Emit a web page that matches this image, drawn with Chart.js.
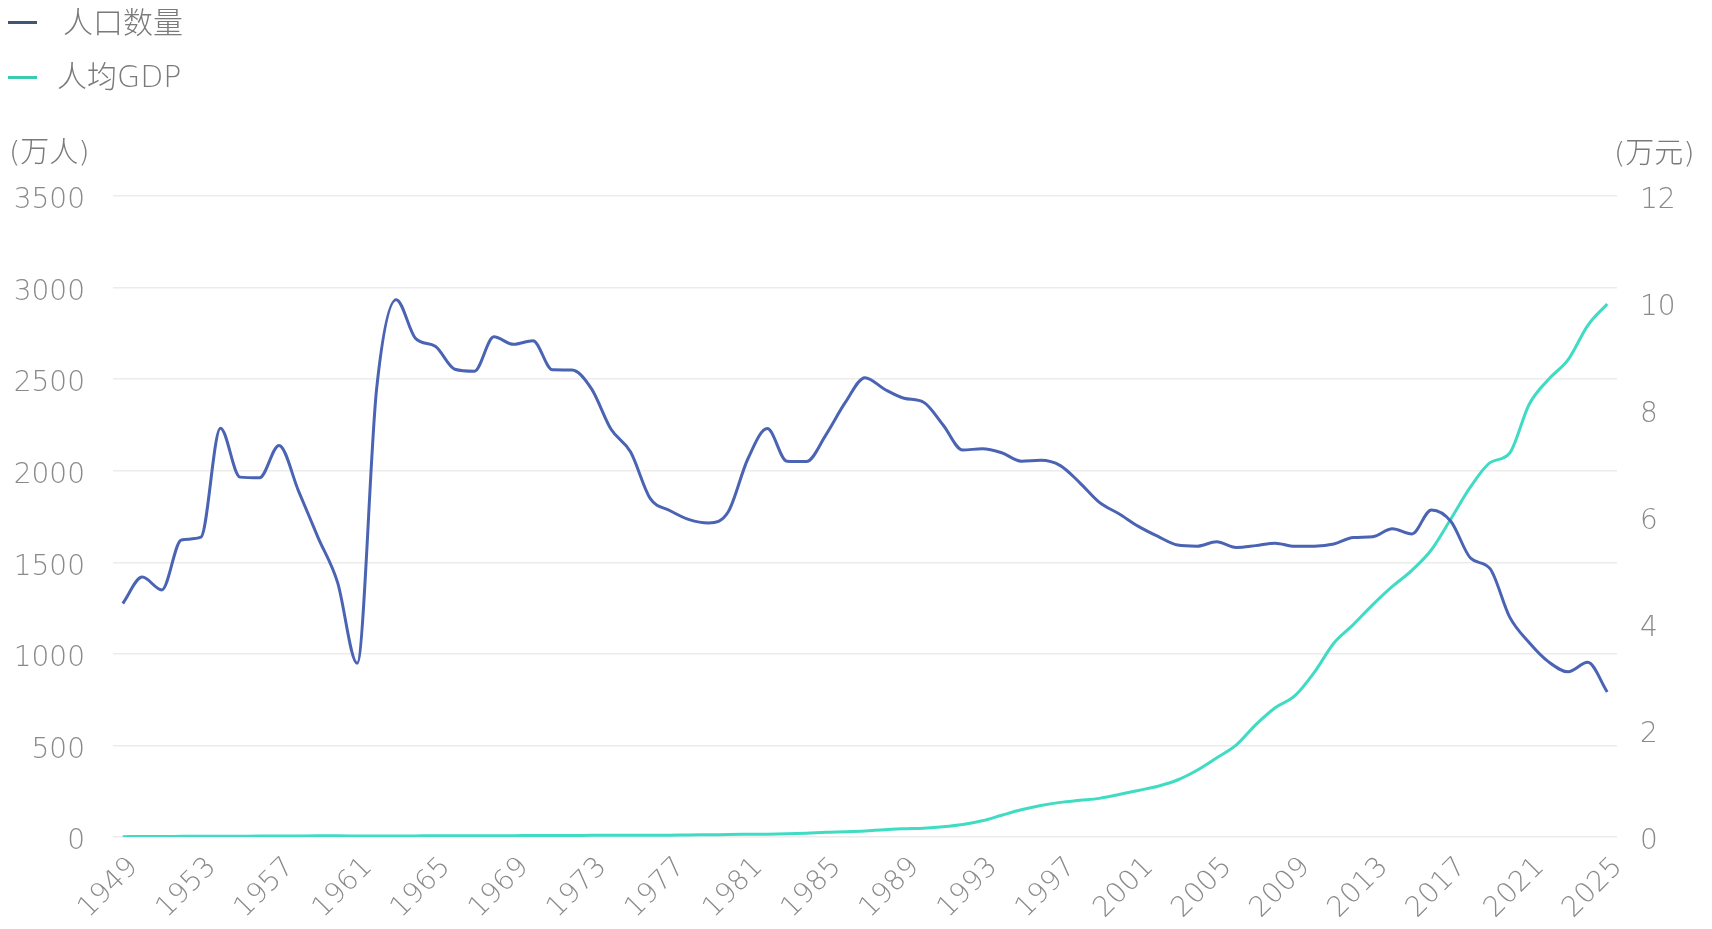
<!DOCTYPE html>
<html>
<head>
<meta charset="utf-8">
<script src="https://cdn.jsdelivr.net/npm/chart.js@4.4.1/dist/chart.umd.min.js"></script>
<style>
html,body{margin:0;padding:0;background:#ffffff;}
#wrap{position:relative;width:1712px;height:929px;overflow:hidden;}
#c{position:absolute;left:0;top:0;}
.txt{position:absolute;font-family:"DejaVu Sans","Noto Sans CJK SC",sans-serif;font-weight:300;color:#7a7a7a;white-space:nowrap;line-height:30px;font-size:29px;}
.lg{font-size:30px;}
.sw{position:absolute;height:3px;width:29px;}
</style>
</head>
<body>
<div id="wrap">
<canvas id="c" width="1712" height="929"></canvas>
</div>
<script>
// ---- data ----
const years = ['1949','1950','1951','1952','1953','1954','1955','1956','1957','1958','1959','1960','1961','1962','1963','1964','1965','1966','1967','1968','1969','1970','1971','1972','1973','1974','1975','1976','1977','1978','1979','1980','1981','1982','1983','1984','1985','1986','1987','1988','1989','1990','1991','1992','1993','1994','1995','1996','1997','1998','1999','2000','2001','2002','2003','2004','2005','2006','2007','2008','2009','2010','2011','2012','2013','2014','2015','2016','2017','2018','2019','2020','2021','2022','2023','2024','2025'];
const tickYears = ['1949','1953','1957','1961','1965','1969','1973','1977','1981','1985','1989','1993','1997','2001','2005','2009','2013','2017','2021','2025'];
const population = [1275,1419,1349,1622,1637,2232,1965,1961,2138,1889,1635,1389,949,2451,2934,2721,2679,2554,2543,2731,2690,2710,2551,2550,2447,2226,2102,1849,1783,1733,1715,1776,2064,2230,2052,2050,2196,2374,2508,2445,2396,2374,2250,2113,2120,2098,2052,2057,2028,1934,1827,1765,1696,1641,1594,1588,1612,1581,1591,1604,1587,1588,1600,1635,1640,1683,1655,1786,1723,1523,1465,1202,1062,956,902,954,792];
const gdpPerCapita = [0.007,0.009,0.010,0.012,0.014,0.014,0.015,0.017,0.017,0.020,0.022,0.022,0.019,0.017,0.018,0.021,0.024,0.025,0.024,0.022,0.024,0.028,0.029,0.029,0.031,0.031,0.033,0.032,0.034,0.039,0.042,0.047,0.050,0.053,0.059,0.070,0.087,0.097,0.112,0.138,0.154,0.166,0.191,0.233,0.303,0.408,0.509,0.590,0.648,0.686,0.723,0.794,0.872,0.951,1.067,1.249,1.480,1.720,2.100,2.420,2.640,3.081,3.628,3.977,4.350,4.691,4.992,5.378,5.959,6.553,7.008,7.183,8.098,8.570,8.936,9.575,9.980];
const seriesNames = ['人口数量','人均GDP'];
const lineColors = ['#4a63b3','#3fdcc3'];
const legendColors = ['#3f5676','#3dcbb0'];
const leftTicks = [0,500,1000,1500,2000,2500,3000,3500];
const rightTicks = [0,2,4,6,8,10,12];
const leftUnit = '(万人)';
const rightUnit = '(万元)';

// ---- html legend & unit labels ----
const wrap = document.getElementById('wrap');
function addText(t, left, top, cls){
  const d = document.createElement('div');
  d.className = 'txt' + (cls ? ' ' + cls : ''); d.textContent = t;
  d.style.left = left + 'px'; d.style.top = top + 'px';
  wrap.appendChild(d); return d;
}
function addSwatch(color, left, top){
  const d = document.createElement('div');
  d.className = 'sw'; d.style.background = color;
  d.style.left = left + 'px'; d.style.top = top + 'px';
  wrap.appendChild(d);
}
addSwatch(legendColors[0], 8, 21);
addText(seriesNames[0], 63, 8, 'lg');
addSwatch(legendColors[1], 8, 76);
addText(seriesNames[1], 57, 62, 'lg');
addText(leftUnit, 9, 137);
addText(rightUnit, 1614, 138);

const FONT = {family:'"DejaVu Sans", "Noto Sans CJK SC", sans-serif', size:28, weight:300};
const XFONT = {family:'"DejaVu Sans", "Noto Sans CJK SC", sans-serif', size:28, weight:300};
const GRAY = '#8a8a8a';

new Chart(document.getElementById('c'), {
  type: 'line',
  data: {
    labels: years,
    datasets: [
      {label: seriesNames[0], data: population, yAxisID: 'y', borderColor: lineColors[0], backgroundColor: lineColors[0],
       borderWidth: 3, pointRadius: 0, cubicInterpolationMode: 'monotone', fill: false},
      {label: seriesNames[1], data: gdpPerCapita, yAxisID: 'y1', borderColor: lineColors[1], backgroundColor: lineColors[1],
       borderWidth: 3, pointRadius: 0, cubicInterpolationMode: 'monotone', fill: false}
    ]
  },
  options: {
    responsive: false,
    animation: false,
    devicePixelRatio: 1,
    layout: {padding: {top: 196, left: 0, right: 0, bottom: 0}},
    plugins: {legend: {display: false}, tooltip: {enabled: false}},
    scales: {
      x: {
        offset: true,
        grid: {display: false, drawTicks: false},
        border: {display: false},
        ticks: {
          autoSkip: false, minRotation: 45, maxRotation: 45, padding: 14, labelOffset: 11,
          color: GRAY, font: XFONT,
          callback: function(v, i){ const y = years[i]; return tickYears.includes(y) ? y : ''; }
        },
        afterFit: s => { s.height = 92; }
      },
      y: {
        position: 'left', min: 0, max: 3500,
        afterBuildTicks: s => { s.ticks = leftTicks.map(v => ({value: v})); },
        grid: {color: '#ececec', lineWidth: 1.5, drawTicks: false},
        border: {display: false},
        ticks: {color: GRAY, font: FONT, padding: 28, labelOffset: 5, callback: v => String(v)},
        afterFit: s => { s.width = 113; }
      },
      y1: {
        position: 'right', min: 0, max: 12,
        afterBuildTicks: s => { s.ticks = rightTicks.map(v => ({value: v})); },
        grid: {display: false, drawTicks: false},
        border: {display: false},
        ticks: {color: GRAY, font: FONT, padding: 23, labelOffset: 5, callback: v => String(v)},
        afterFit: s => { s.width = 95; }
      }
    }
  }
});
</script>
</body>
</html>
